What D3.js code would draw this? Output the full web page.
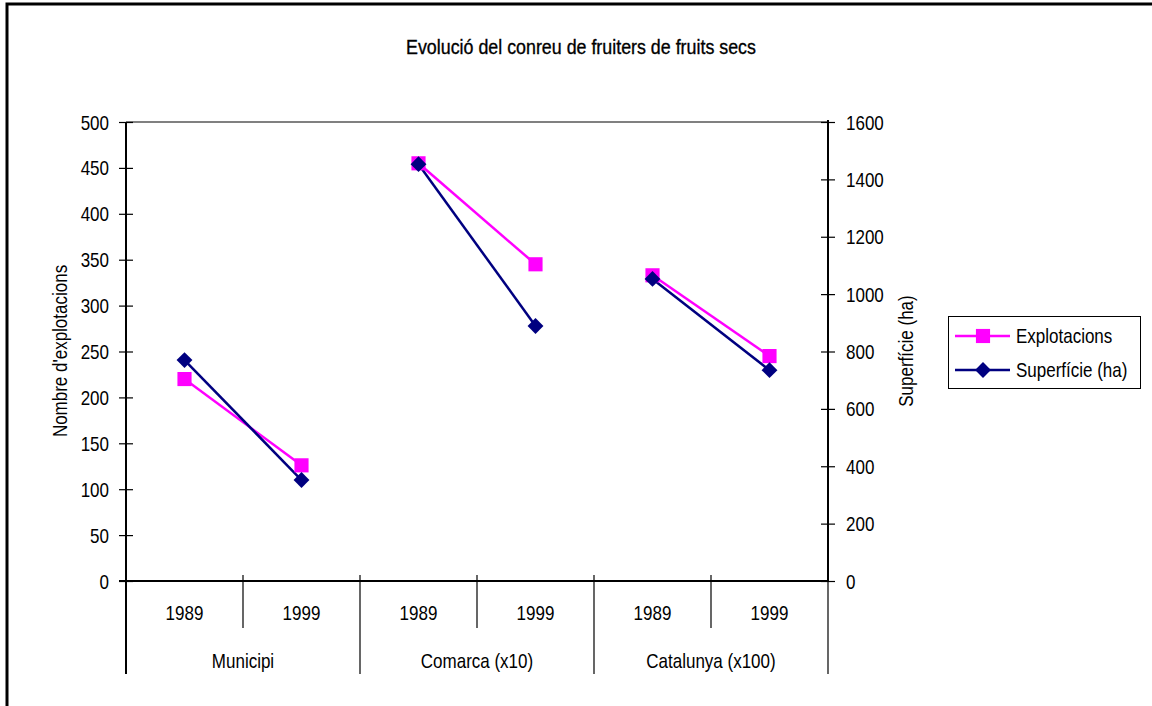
<!DOCTYPE html>
<html><head><meta charset="utf-8">
<script src="https://cdn.jsdelivr.net/npm/d3@7"></script>
<style>
html,body{margin:0;padding:0;background:#fff;}
svg text{font-family:"Liberation Sans",Arial,sans-serif;fill:#000;}
</style></head>
<body>
<svg id="c" width="1152" height="706"></svg>
<script>
const title = "Evolució del conreu de fruiters de fruits secs";
const groups = ["Municipi", "Comarca (x10)", "Catalunya (x100)"];
const years = ["1989", "1999"];
const explotacions = [220, 126, 455, 345, 333, 245];
const superficie = [770, 352, 1453, 889, 1053, 735];
const leftTicks = [0, 50, 100, 150, 200, 250, 300, 350, 400, 450, 500];
const rightTicks = [0, 200, 400, 600, 800, 1000, 1200, 1400, 1600];
const seriesNames = ["Explotacions", "Superfície (ha)"];
const leftTitle = "Nombre d'explotacions";
const rightTitle = "Superfície (ha)";

const svg = d3.select("#c");
const L = 126, R = 828, T = 122, B = 581;
const FS = 20;
const SX = 0.85;

// outer frame
svg.append("path").attr("d", "M7,720 V4 H1160").attr("fill", "none").attr("stroke", "#000").attr("stroke-width", 3);

svg.append("text").attr("x", 581).attr("y", 54).attr("text-anchor", "middle")
  .style("font-size", "21px").style("stroke", "#000").style("stroke-width", 0.35).text(title);

const cats = [];
groups.forEach((g, gi) => years.forEach((y, yi) => cats.push({ g, gi, y, i: gi * 2 + yi })));
const x = d3.scaleBand().domain(cats.map(d => d.i)).range([L, R]).padding(0);
const xc = i => x(i) + x.bandwidth() / 2;
const yL = d3.scaleLinear().domain([0, 500]).range([B, T]);
const yR = d3.scaleLinear().domain([0, 1600]).range([B, T]);

svg.append("line").attr("x1", L).attr("x2", R).attr("y1", T).attr("y2", T).attr("stroke", "#808080").attr("stroke-width", 2);

const gl = svg.append("g").attr("transform", `translate(${L},0)`)
  .call(d3.axisLeft(yL).tickValues(leftTicks).tickFormat(d3.format("d")).tickSize(7).tickPadding(10).tickSizeOuter(0));
gl.selectAll("line").attr("x1", -7).attr("x2", 7).attr("stroke", "#000").attr("stroke-width", 1.2);
gl.select(".domain").remove();
gl.selectAll("text").style("font-size", FS + "px").attr("dy", "0.35em");
svg.append("line").attr("x1", L).attr("x2", L).attr("y1", T).attr("y2", 674).attr("stroke", "#000").attr("stroke-width", 2);

const gr = svg.append("g").attr("transform", `translate(${R},0)`)
  .call(d3.axisRight(yR).tickValues(rightTicks).tickFormat(d3.format("d")).tickSize(7).tickPadding(11).tickSizeOuter(0));
gr.selectAll("line").attr("x1", -7).attr("x2", 7).attr("stroke", "#000").attr("stroke-width", 1.2);
gr.select(".domain").remove();
gr.selectAll("text").style("font-size", FS + "px").attr("dy", "0.35em");
svg.append("line").attr("x1", R).attr("x2", R).attr("y1", T - 2).attr("y2", B + 1).attr("stroke", "#000").attr("stroke-width", 2);

svg.append("line").attr("x1", L - 7).attr("x2", R + 1).attr("y1", B).attr("y2", B).attr("stroke", "#000").attr("stroke-width", 2);
cats.forEach(d => {
  if (d.i === 0) return;
  const xx = x(d.i);
  const isGroup = d.i % 2 === 0;
  svg.append("line").attr("x1", xx).attr("x2", xx).attr("y1", B - 6).attr("y2", isGroup ? 674 : 628)
    .attr("stroke", "#000").attr("stroke-width", 1.2);
});
svg.append("line").attr("x1", R).attr("x2", R).attr("y1", B).attr("y2", 674).attr("stroke", "#000").attr("stroke-width", 1.2);
svg.selectAll("text.yr").data(cats).join("text").attr("class", "yr")
  .attr("x", d => xc(d.i)).attr("y", 620).attr("text-anchor", "middle").style("font-size", FS + "px").text(d => d.y);
svg.selectAll("text.grp").data(groups).join("text").attr("class", "grp")
  .attr("x", (d, gi) => (x(gi * 2) + x(gi * 2 + 1) + x.bandwidth()) / 2).attr("y", 668)
  .attr("text-anchor", "middle").style("font-size", FS + "px").text(d => d);

svg.append("text").attr("transform", `translate(67,351) rotate(-90)`).attr("text-anchor", "middle")
  .style("font-size", FS + "px").text(leftTitle);
svg.append("text").attr("transform", `translate(913,351) rotate(-90)`).attr("text-anchor", "middle")
  .style("font-size", FS + "px").text(rightTitle);

const magenta = "#FF00FF", navy = "#000080";
groups.forEach((g, gi) => {
  const idx = [gi * 2, gi * 2 + 1];
  svg.append("path").datum(idx).attr("fill", "none").attr("stroke", magenta).attr("stroke-width", 2.5)
    .attr("d", d3.line().x(i => xc(i)).y(i => yL(explotacions[i])));
  svg.append("path").datum(idx).attr("fill", "none").attr("stroke", navy).attr("stroke-width", 2.5)
    .attr("d", d3.line().x(i => xc(i)).y(i => yR(superficie[i])));
});
const sq = d3.symbol().type(d3.symbolSquare).size(200);
const dm = d3.symbol().type(d3.symbolDiamond2).size(160);
svg.selectAll("path.sq").data(explotacions).join("path").attr("class", "sq")
  .attr("transform", (d, i) => `translate(${xc(i)},${yL(d)})`).attr("d", sq).attr("fill", magenta);
svg.selectAll("path.dm").data(superficie).join("path").attr("class", "dm")
  .attr("transform", (d, i) => `translate(${xc(i)},${yR(d)})`).attr("d", dm).attr("fill", navy);

svg.append("rect").attr("x", 948.5).attr("y", 316.5).attr("width", 192).attr("height", 72)
  .attr("fill", "#fff").attr("stroke", "#000").attr("stroke-width", 1);
[[magenta, sq, 336], [navy, dm, 370]].forEach(([c, sym, yy], k) => {
  svg.append("line").attr("x1", 955).attr("x2", 1010).attr("y1", yy).attr("y2", yy).attr("stroke", c).attr("stroke-width", 2.5);
  svg.append("path").attr("transform", `translate(983,${yy})`).attr("d", sym).attr("fill", c);
  svg.append("text").attr("x", 1016).attr("y", yy).attr("dy", "0.35em").style("font-size", FS + "px").text(seriesNames[k]);
});

svg.selectAll("text").each(function () {
  const t = d3.select(this);
  const xv = +(t.attr("x") || 0);
  t.attr("x", xv / SX);
  const tr = t.attr("transform") || "";
  t.attr("transform", (tr + ` scale(${SX},1)`).trim());
});
</script>
</body></html>
